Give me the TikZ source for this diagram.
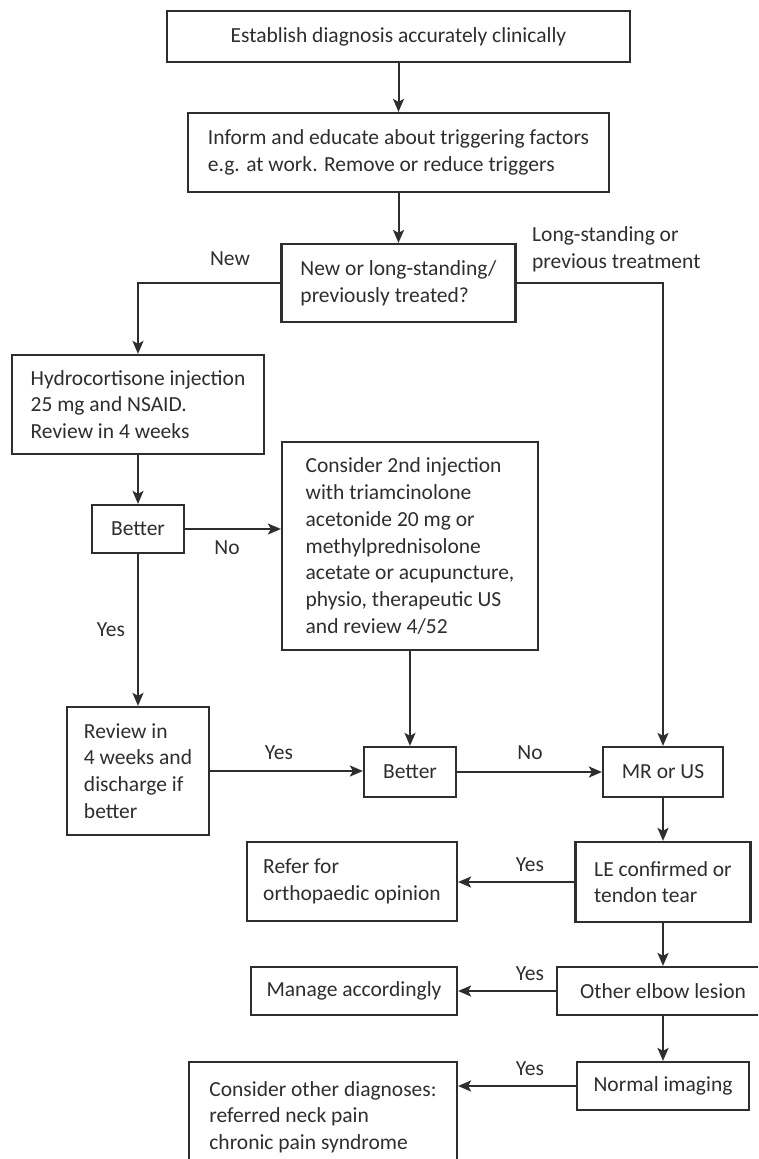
\documentclass[tikz,border=0pt]{standalone}
\usepackage{fontspec}
\setmainfont{Carlito}
\usetikzlibrary{arrows.meta}
\definecolor{ink}{HTML}{2E2E2E}
\begin{document}
\begin{tikzpicture}[x=1pt,y=-1pt,
  txt/.style={font=\fontsize{21.5}{26.7}\selectfont, text=ink},
  box/.style={txt, draw=ink, line width=2.2pt, inner sep=0pt, align=left},
  lab/.style={txt, inner sep=0pt, align=left},
  arr/.style={draw=ink, line width=2pt, -{Stealth[length=13pt,width=11pt,inset=3pt]}}]
\clip (0,0) rectangle (758,1159);
\fill[white] (0,0) rectangle (758,1159);
% boxes
\node[box, minimum width=463pt, minimum height=51pt, align=center] (b1) at (398.5,36.5) {Establish diagnosis accurately clinically};
\node[box, minimum width=421pt, minimum height=79pt] (b2) at (398.5,152.5) {Inform and educate about triggering factors\\e.g. at work. Remove or reduce triggers};
\node[box, minimum width=234pt, minimum height=78pt] (b3) at (398.5,283) {New or long-standing/\\previously treated?};
\node[box, minimum width=252pt, minimum height=99pt] (hy) at (138,404.5) {Hydrocortisone injection\\25 mg and NSAID.\\Review in 4 weeks};
\node[box, minimum width=92pt, minimum height=48pt, align=center] (be1) at (138,529) {Better};
\node[box, minimum width=256pt, minimum height=208pt] (co) at (410,546) {Consider 2nd injection\\with triamcinolone\\acetonide 20 mg or\\methylprednisolone\\acetate or acupuncture,\\physio, therapeutic US\\and review 4/52};
\node[box, minimum width=142pt, minimum height=128pt] (rv) at (138,771) {Review in\\4 weeks and\\discharge if\\better};
\node[box, minimum width=92pt, minimum height=50pt, align=center] (be2) at (410,772) {Better};
\node[box, minimum width=120pt, minimum height=50pt, align=center] (mr) at (663,772) {MR or US};
\node[box, minimum width=175pt, minimum height=80pt] (le) at (663,882) {LE confirmed or\\tendon tear};
\node[box, minimum width=210pt, minimum height=79pt] (rf) at (352,881.5) {Refer for\\orthopaedic opinion};
\node[box, minimum width=212pt, minimum height=48pt, align=center] (ot) at (663,991) {Other elbow lesion};
\node[box, minimum width=206pt, minimum height=48pt, align=center] (mg) at (354,991) {Manage accordingly};
\node[box, minimum width=172pt, minimum height=48pt, align=center] (nm) at (663,1086) {Normal imaging};
\node[box, minimum width=268pt, minimum height=110pt] (cd) at (323,1117) {Consider other diagnoses:\\referred neck pain\\chronic pain syndrome};
% connectors
\draw[arr] (b1) -- (b2);
\draw[arr] (b2) -- (b3);
\draw[arr] (b3.west) -| (hy.north);
\draw[arr] (b3.east) -| (mr.north);
\draw[arr] (hy) -- (be1);
\draw[arr] (be1.east) -- (be1.east -| co.west);
\draw[arr] (be1) -- (rv);
\draw[arr] (co) -- (be2);
\draw[arr] (rv.east) -- (rv.east -| be2.west);
\draw[arr] (be2) -- (mr);
\draw[arr] (mr) -- (le);
\draw[arr] (le.west) -- (le.west -| rf.east);
\draw[arr] (le) -- (ot);
\draw[arr] (ot) -- (mg);
\draw[arr] (ot) -- (nm);
\draw[arr] (nm.west) -- (nm.west -| cd.east);
% labels
\node[lab] (lnew) at (230,259) {New};
\node[lab, anchor=west] (llong) at (532,249) {Long-standing or\\previous treatment};
\node[lab] (lno1) at (227,548) {No};
\node[lab] (lyes1) at (111,630) {Yes};
\node[lab] (lyes2) at (279,753) {Yes};
\node[lab] (lno2) at (530,753) {No};
\node[lab] (lyes3) at (530,865) {Yes};
\node[lab] (lyes4) at (530,974) {Yes};
\node[lab] (lyes5) at (530,1069) {Yes};
\end{tikzpicture}
\end{document}
